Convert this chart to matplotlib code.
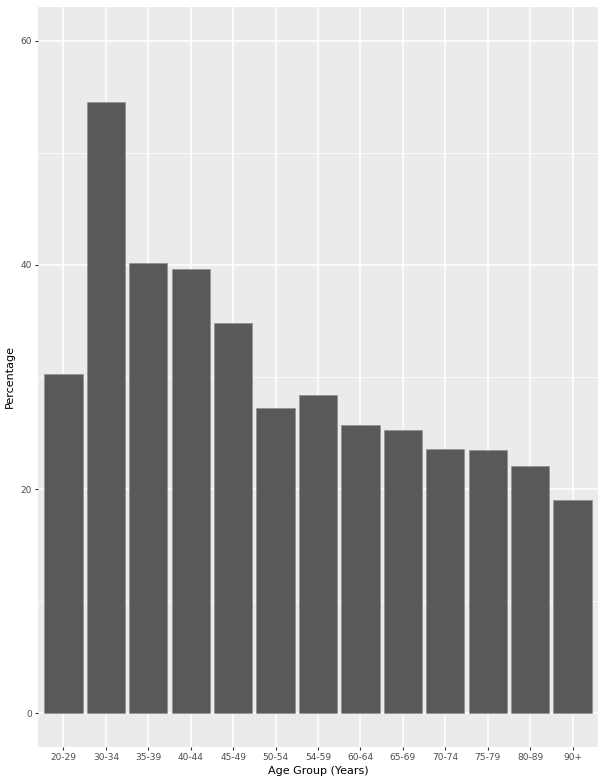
import matplotlib
matplotlib.use("Agg")
import matplotlib.pyplot as plt
import numpy as np

categories = ["20-29", "30-34", "35-39", "40-44", "45-49", "50-54", "54-59",
              "60-64", "65-69", "70-74", "75-79", "80-89", "90+"]
percentages = [30.3, 54.5, 40.2, 39.6, 34.8, 27.2, 28.4, 25.7, 25.3, 23.55, 23.45, 22.05, 19.0]
y_ticks = [0, 20, 40, 60]
y_minor = [10, 30, 50]

W, H = 604, 781
fig = plt.figure(figsize=(W / 100, H / 100), dpi=100)
fig.patch.set_facecolor("white")
ax = fig.add_axes([38 / W, (H - 747) / H, (598 - 38) / W, (747 - 7) / H])
ax.set_facecolor("#EBEBEB")

x = np.arange(1, len(categories) + 1)
ax.bar(x, percentages, width=0.9, color="#595959", edgecolor="#8a8a8a", linewidth=0.4, zorder=3)

ax.set_xlim(0.4, len(categories) + 0.6)
ax.set_ylim(-3, 63)
ax.set_xticks(x)
ax.set_xticklabels(categories)
ax.set_yticks(y_ticks)
ax.set_yticks(y_minor, minor=True)

ax.grid(which="major", color="white", linewidth=1.1, zorder=0)
ax.grid(which="minor", axis="y", color="white", linewidth=0.55, zorder=0)
ax.set_axisbelow(True)
for s in ax.spines.values():
    s.set_visible(False)

ax.tick_params(axis="both", which="major", length=2.5, width=0.8, color="#333333",
               labelsize=6.5, labelcolor="#4D4D4D", pad=2)
ax.tick_params(axis="y", which="minor", length=0)

ax.set_xlabel("Age Group (Years)", fontsize=8, color="black", labelpad=3)
ax.set_ylabel("Percentage", fontsize=8, color="black", labelpad=4)

fig.savefig("out.png", dpi=100)
